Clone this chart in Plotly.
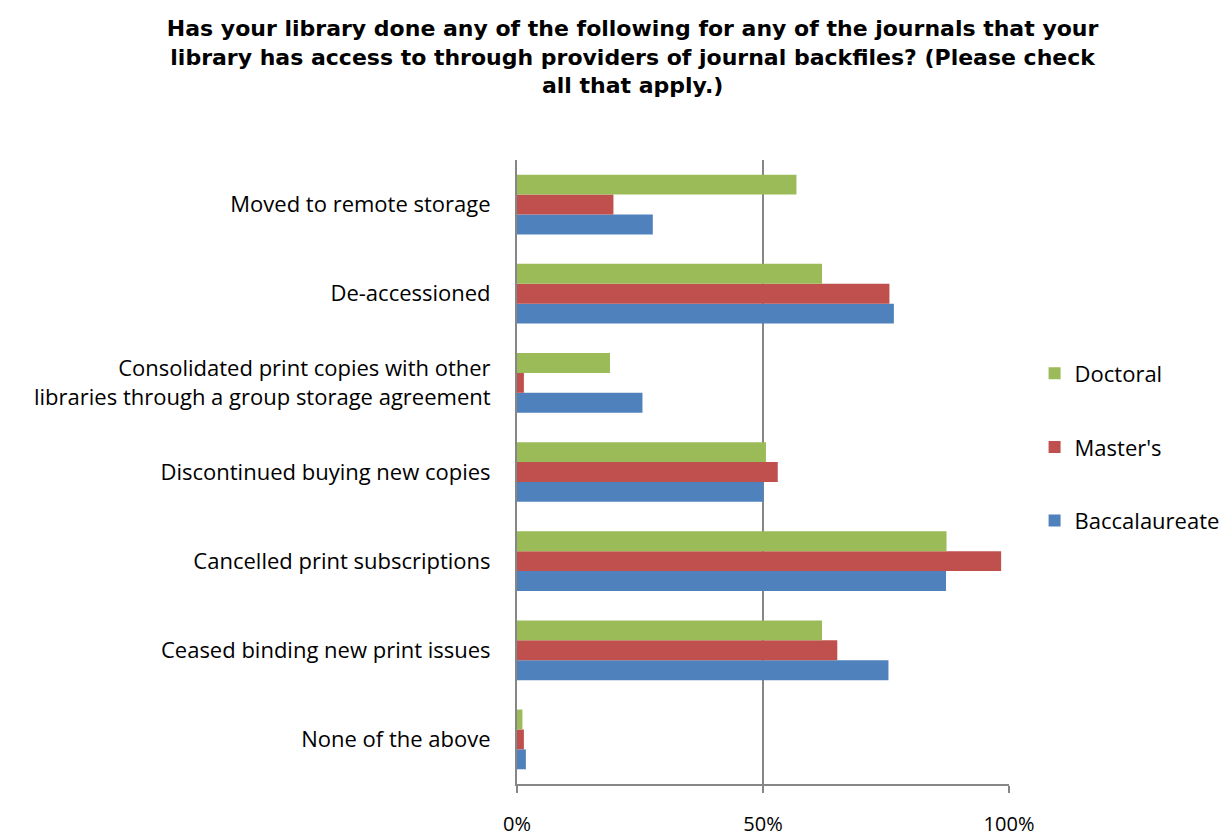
import plotly.graph_objects as go

# Categories listed bottom-to-top
categories = [
    "None of the above",
    "Ceased binding new print issues",
    "Cancelled print subscriptions",
    "Discontinued buying new copies",
    "Consolidated print copies with other<br>libraries through a group storage agreement",
    "De-accessioned",
    "Moved to remote storage",
]

baccalaureate = [1.8, 75.5, 87.2, 50.1, 25.5, 76.6, 27.6]
masters = [1.4, 65.1, 98.4, 53.0, 1.4, 75.7, 19.6]
doctoral = [1.1, 62.0, 87.3, 50.6, 18.9, 62.0, 56.8]

# (name, values, colour, legend rank)
series = [
    ("Baccalaureate", baccalaureate, "#4F81BD", 3),
    ("Master's", masters, "#C0504D", 2),
    ("Doctoral", doctoral, "#9BBB59", 1),
]

x_ticks = [0, 50, 100]
x_tick_labels = ["0%", "50%", "100%"]

BODY_FONT = "'Open Sans', Lato, sans-serif"
TITLE_FONT = "'DejaVu Sans', 'Liberation Sans', sans-serif"

fig = go.Figure()
for name, vals, color, rank in series:
    fig.add_trace(go.Bar(
        y=categories,
        x=vals,
        name=name,
        orientation="h",
        marker=dict(color=color, line=dict(width=0)),
        legendgroup=name,
        legendrank=rank,
    ))

fig.update_layout(
    width=1226,
    height=836,
    paper_bgcolor="white",
    plot_bgcolor="white",
    margin=dict(l=517, r=217, t=160, b=52, autoexpand=False),
    barmode="group",
    bargap=0.33,
    bargroupgap=0,
    font=dict(family=BODY_FONT, size=22, color="black"),
    title=dict(
        text=("Has your library done any of the following for any of the journals that your<br>"
              "library has access to through providers of journal backfiles? (Please check<br>"
              "all that apply.)"),
        font=dict(family=TITLE_FONT, size=22, color="black", weight="bold"),
        x=0.516,
        xanchor="center",
        xref="container",
        y=0.957,
        yanchor="top",
        yref="container",
    ),
    legend=dict(
        x=1.052,
        xanchor="left",
        y=0.54,
        yanchor="middle",
        traceorder="grouped",
        tracegroupgap=42,
        font=dict(family=BODY_FONT, size=22),
        itemwidth=30,
    ),
    xaxis=dict(
        range=[0, 100],
        tickvals=x_ticks,
        ticktext=x_tick_labels,
        tickfont=dict(size=20),
        showgrid=True,
        gridcolor="#868686",
        gridwidth=2,
        showline=True,
        linecolor="#868686",
        linewidth=2,
        ticks="outside",
        ticklen=7,
        tickwidth=2,
        tickcolor="#868686",
        ticklabelstandoff=14,
        zeroline=False,
        fixedrange=True,
    ),
    yaxis=dict(
        categoryorder="array",
        categoryarray=categories,
        showline=True,
        linecolor="#868686",
        linewidth=2,
        showgrid=False,
        ticks="",
        ticklabelstandoff=20,
        fixedrange=True,
    ),
)

fig.write_html("out.html")
